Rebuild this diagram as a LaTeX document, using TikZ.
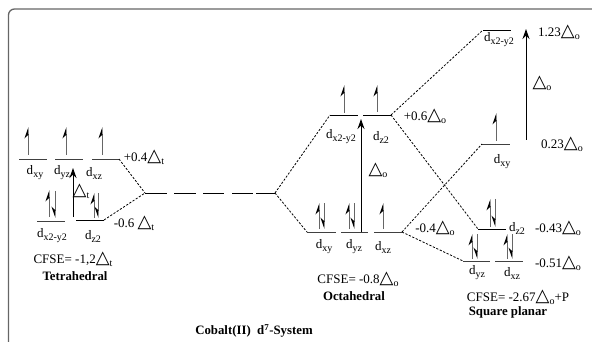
\documentclass[tikz,border=0pt]{standalone}
\usepackage{fontspec}
\setmainfont{Liberation Serif}
\newfontfamily\trifont{DejaVu Sans}
\usetikzlibrary{arrows.meta}
\newcommand{\tri}{{\trifont\fontsize{18}{18}\selectfont △}}
\newcommand{\sbs}[1]{\raisebox{-3pt}{\fontsize{10}{10}\selectfont #1}}
\newcommand{\dorb}[1]{\fontsize{13}{13}\selectfont d\sbs{#1}}
\newcommand{\spinup}[3]{\draw[spin,-{Stealth[harpoon,length=10pt,width=7pt,color=black]}] (#1,#2) -- (#1,#3);}
\newcommand{\spindn}[3]{\draw[spin,-{Stealth[harpoon,swap,length=10pt,width=7pt,color=black]}] (#1,#3) -- (#1,#2);}
\tikzset{
 level/.style={line width=0.9pt,black!75},
 spin/.style={line width=0.9pt,black!60},
 gap/.style={line width=0.8pt,dashed,dash pattern=on 2.2pt off 1.6pt},
 bigarrow/.style={line width=1pt,-{Stealth[length=10pt,width=7pt]}},
 lbl/.style={inner sep=0pt,font=\fontsize{13}{14}\selectfont},
 head/.style={inner sep=0pt,font=\fontsize{12.8}{14}\selectfont\bfseries},
}
\begin{document}
\begin{tikzpicture}[x=1pt,y=-1pt]
\useasboundingbox (0,0) rectangle (592,342);
% frame
\draw[line width=1.3pt,black!60,rounded corners=6pt] (8.5,342) -- (8.5,9) -- (592,9);
% tetrahedral levels
\coordinate (txzR) at (119,159);
\coordinate (tz2R) at (104,220);
\coordinate (bcL) at (145,193);
\coordinate (bcR) at (275,193);
\draw[level] (19,159) -- (47,159);
\draw[level] (55,159) -- (83,159);
\draw[level] (92,159) -- (txzR);
\draw[level] (37,221) -- (65,221);
\draw[level,black] (76,220) -- (tz2R);
% barycentre
\draw[level,black] (bcL) -- (167,193);
\draw[level,black] (174,193) -- (196,193);
\draw[level,black] (203,193) -- (224,193);
\draw[level,black] (232,193) -- (253,193);
\draw[level,black] (256,193) -- (bcR);
% octahedral levels
\coordinate (oegL) at (330,115);
\coordinate (oegR) at (391,115);
\coordinate (ot2L) at (307,232);
\coordinate (ot2R) at (402,232);
\draw[level,black] (oegL) -- (358,115);
\draw[level,black] (363,115) -- (oegR);
\draw[level] (ot2L) -- (336,232);
\draw[level] (341,232) -- (368,232);
\draw[level] (374,232) -- (ot2R);
% square planar levels
\coordinate (sx2) at (483,30);
\coordinate (sxy) at (482,144);
\coordinate (sz2) at (478,229);
\coordinate (syz) at (463,261);
\draw[level,black] (sx2) -- (511,30);
\draw[level] (sxy) -- (510,144);
\draw[level,black] (sz2) -- (506,229);
\draw[level] (syz) -- (490,261);
\draw[level] (495,261) -- (523,261);
% dashed connectors
\draw[gap] (txzR) -- (bcL);
\draw[gap] (tz2R) -- (bcL);
\draw[gap] (bcR) -- (oegL);
\draw[gap] (bcR) -- (ot2L);
\draw[gap] (oegR) -- (sx2);
\draw[gap] (oegR) -- (sz2);
\draw[gap] (ot2R) -- (sxy);
\draw[gap] (ot2R) -- (syz);
% spins tetrahedral
\spinup{28}{155}{127}
\spinup{66}{155}{127}
\spinup{102}{155}{127}
\spinup{49}{217}{190}
\spindn{55}{218}{191}
\spinup{94}{218}{193}
\spindn{98}{218}{193}
% spins octahedral
\spinup{344}{113}{85}
\spinup{377}{112}{85}
\spinup{319}{229}{203}
\spindn{324}{229}{203}
\spinup{349}{229}{203}
\spindn{354}{229}{203}
\spinup{383}{229}{203}
% spins square planar
\spinup{496}{141}{113}
\spinup{490}{227}{199}
\spindn{495}{227}{199}
\spinup{472}{259}{234}
\spindn{477}{259}{234}
\spinup{507}{259}{234}
\spindn{512}{259}{234}
% gap arrows
\coordinate (at0) at (73,217); \coordinate (at1) at (73,168);
\draw[bigarrow] (at0) -- (at1);
\coordinate (ao0) at (361,232); \coordinate (ao1) at (361,119);
\draw[bigarrow] (ao0) -- (ao1);
\coordinate (as0) at (526,140); \coordinate (as1) at (526,29);
\draw[bigarrow] (as0) -- (as1);
% tetrahedral labels
\node[lbl] (l1) at (35,173) {\dorb{xy}};
\node[lbl] (l2) at (62,173) {\dorb{yz}};
\node[lbl] (l3) at (94,173) {\dorb{xz}};
\node[lbl] (l4) at (52,236) {\dorb{x2-y2}};
\node[lbl] (l5) at (93,236) {\dorb{z2}};
\node[lbl] (e1) at (144,157) {+0.4\tri\sbs{t}};
\node[lbl] (e2) at (134,223) {-0.6 \tri\sbs{t}};
\node[lbl] (e3) at (81,191) {\tri\sbs{t}};
\node[lbl] (c1) at (73,259) {CFSE= -1,2\tri\sbs{t}};
\node[head] (h1) at (75,276) {Tetrahedral};
% octahedral labels
\node[lbl] (l6) at (341,137) {\dorb{x2-y2}};
\node[lbl] (l7) at (381,137) {\dorb{z2}};
\node[lbl] (e4) at (425,116) {+0.6\tri\sbs{o}};
\node[lbl] (e5) at (378,170) {\tri\sbs{o}};
\node[lbl] (l8) at (324,247) {\dorb{xy}};
\node[lbl] (l9) at (354,247) {\dorb{yz}};
\node[lbl] (l10) at (383,247) {\dorb{xz}};
\node[lbl] (e6) at (435,228) {-0.4\tri\sbs{o}};
\node[lbl] (c2) at (358,279) {CFSE= -0.8\tri\sbs{o}};
\node[head] (h2) at (354,296) {Octahedral};
% square planar labels
\node[lbl] (l11) at (499,40) {\dorb{x2-y2}};
\node[lbl] (e7) at (559,32) {1.23\tri\sbs{o}};
\node[lbl] (e8) at (542,83) {\tri\sbs{o}};
\node[lbl] (l12) at (502,162) {\dorb{xy}};
\node[lbl] (e9) at (562,144) {0.23\tri\sbs{o}};
\node[lbl] (l13) at (517,228) {\dorb{z2}};
\node[lbl] (e10) at (558,228) {-0.43\tri\sbs{o}};
\node[lbl] (e11) at (558,263) {-0.51\tri\sbs{o}};
\node[lbl] (l14) at (477,273) {\dorb{yz}};
\node[lbl] (l15) at (512,273) {\dorb{xz}};
\node[lbl] (c3) at (518,297) {CFSE= -2.67\tri\sbs{o}+P};
\node[head] (h3) at (508,312) {Square planar};
\node[head] (h4) at (254,331) {Cobalt(II)\ \ d\textsuperscript{7}-System};
\end{tikzpicture}
\end{document}
